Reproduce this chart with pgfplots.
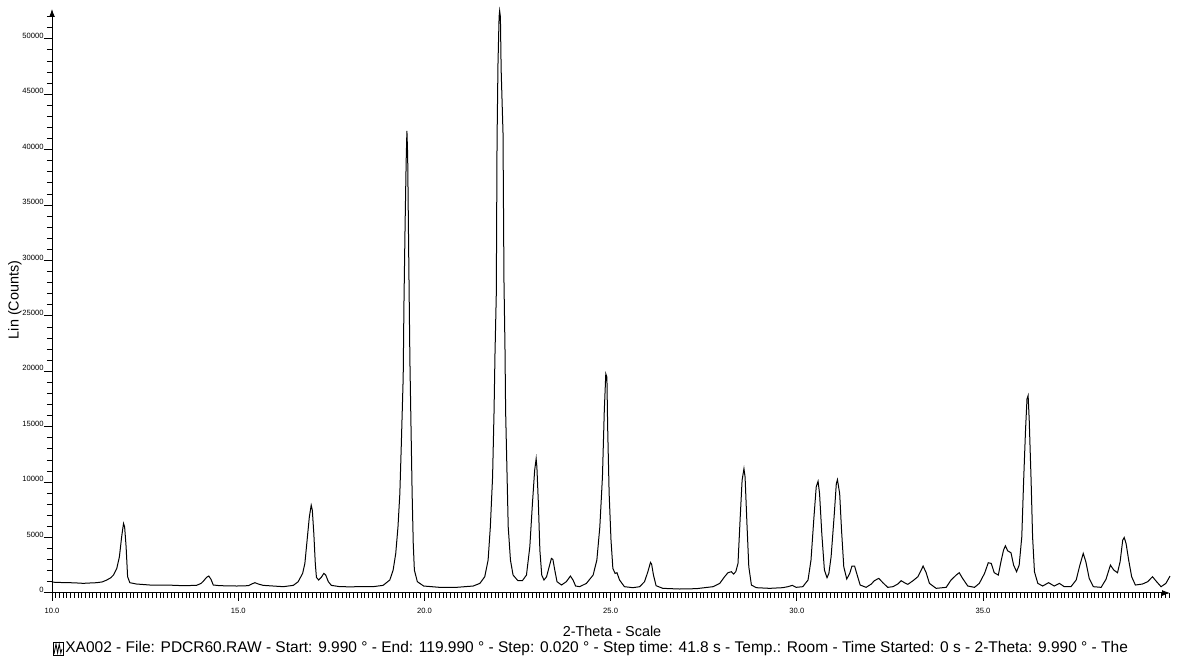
\documentclass[border=0pt]{standalone}
\usepackage{fontspec}
\setmainfont{Liberation Sans}
\usepackage{pgfplots}
\pgfplotsset{compat=1.18}
\usetikzlibrary{arrows.meta}

% XRD scan, 2-theta vs counts
\pgfplotstableread{
deg count
10.00 980
10.20 950
10.48 930
10.70 900
10.84 870
11.00 900
11.20 930
11.35 1000
11.47 1170
11.58 1380
11.65 1620
11.74 2220
11.81 3270
11.87 5070
11.92 6270
11.95 5970
11.99 4170
12.03 1470
12.09 930
12.27 810
12.63 720
13.08 720
13.52 660
13.88 690
14.00 860
14.06 1050
14.15 1410
14.21 1530
14.27 1230
14.33 720
14.51 660
14.96 630
15.27 660
15.36 810
15.45 930
15.54 810
15.67 690
16.21 570
16.48 690
16.61 1020
16.73 1770
16.79 2670
16.85 4770
16.91 6870
16.96 7920
16.99 7470
17.03 5370
17.07 2670
17.10 1410
17.16 1170
17.23 1410
17.30 1770
17.35 1620
17.42 1020
17.50 690
17.73 570
18.00 560
18.30 570
18.62 570
18.89 690
19.07 1170
19.16 2070
19.23 3570
19.29 5970
19.34 8970
19.38 13470
19.43 19470
19.45 26000
19.48 33000
19.51 39000
19.53 41700
19.55 39500
19.58 30000
19.61 21000
19.64 14970
19.67 8970
19.70 4470
19.73 2070
19.81 1020
19.98 630
20.41 510
20.86 510
21.31 630
21.49 870
21.62 1470
21.71 2970
21.77 5970
21.83 10470
21.87 16470
21.895 21600
21.93 27000
21.95 40770
21.975 47700
22.005 52000
22.02 52530
22.04 52000
22.06 47250
22.11 41520
22.136 28170
22.163 22170
22.18 16470
22.22 10470
22.25 5970
22.31 2970
22.38 1620
22.51 1110
22.63 1110
22.74 1620
22.83 4170
22.90 8070
22.96 11070
23.00 12120
23.02 11370
23.06 8070
23.10 3870
23.15 1620
23.21 1170
23.28 1470
23.35 2370
23.41 3120
23.45 3030
23.50 2070
23.56 1020
23.68 720
23.81 1020
23.92 1530
23.99 1170
24.06 630
24.17 570
24.35 870
24.53 1620
24.63 2970
24.71 5970
24.78 10470
24.83 16470
24.87 19770
24.90 19470
24.92 14970
24.96 8970
25.01 4770
25.06 2220
25.12 1770
25.17 1830
25.24 1170
25.37 570
25.60 480
25.78 570
25.91 1020
26.00 1920
26.07 2760
26.10 2610
26.15 1620
26.22 660
26.40 420
26.85 360
27.30 390
27.75 570
27.93 870
28.06 1470
28.15 1830
28.24 1920
28.30 1710
28.36 1920
28.42 2670
28.48 6870
28.53 10170
28.58 11220
28.61 10470
28.66 6270
28.71 2370
28.78 720
28.91 480
29.27 420
29.62 480
29.76 570
29.88 690
29.98 510
30.16 570
30.30 1170
30.38 2970
30.46 6870
30.52 9570
30.57 10080
30.61 8970
30.67 5370
30.74 2070
30.81 1380
30.86 1770
30.92 3270
31.00 6870
31.06 9870
31.09 10230
31.15 8970
31.20 5670
31.26 2370
31.34 1260
31.42 1770
31.48 2430
31.55 2430
31.62 1620
31.70 720
31.86 510
32.00 810
32.08 1110
32.20 1320
32.31 930
32.44 510
32.58 570
32.71 810
32.80 1110
32.89 930
32.98 780
33.12 1110
33.25 1470
33.34 2070
33.39 2430
33.47 1850
33.56 870
33.74 420
34.01 510
34.14 1170
34.28 1620
34.36 1830
34.45 1320
34.59 630
34.77 510
34.90 870
35.04 1770
35.14 2730
35.22 2670
35.30 1830
35.41 1620
35.48 2820
35.55 3870
35.60 4260
35.66 3810
35.75 3630
35.82 2520
35.90 1920
35.97 2520
36.04 5070
36.09 10170
36.14 14670
36.18 17520
36.21 17820
36.24 15570
36.29 10170
36.33 5070
36.38 1920
36.47 870
36.60 630
36.76 930
36.91 630
37.05 870
37.18 570
37.36 570
37.50 1170
37.60 2520
37.69 3570
37.76 2820
37.85 1320
37.96 570
38.17 510
38.30 1230
38.42 2520
38.51 2070
38.61 1830
38.68 2820
38.75 4770
38.79 5010
38.84 4470
38.91 2970
38.99 1470
39.09 720
39.28 810
39.42 1020
39.55 1470
39.66 1020
39.78 570
39.91 870
40.02 1530
}\scan

\begin{document}
\begin{tikzpicture}
\begin{axis}[
    at={(26pt,35pt)}, anchor=south west,
    scale only axis,
    width=559pt, height=292pt,
    xmin=10, xmax=40.02,
    ymin=0, ymax=52700,
    axis lines=left,
    axis line style={line width=0.5pt, -{Latex[length=4pt,width=3pt]}},
    tick align=outside,
    tick style={black, line width=0.5pt},
    major tick length=4pt,
    minor tick length=2.5pt,
    xtick={10,15,...,35},
    minor xtick={10.0,10.1,...,40.0},
    ytick={0,5000,...,50000},
    minor ytick={0,1000,...,52000},
    scaled y ticks=false,
    /pgf/number format/assume math mode=true,
    xticklabel style={font=\fontsize{3.8}{4}\selectfont,
        /pgf/number format/.cd, fixed, fixed zerofill, precision=1},
    yticklabel style={font=\fontsize{3.8}{4}\selectfont, anchor=south east,
        inner sep=0pt, /pgf/number format/set thousands separator={}},
    xlabel={2-Theta - Scale},
    ylabel={Lin (Counts)},
    label style={font=\fontsize{7.2}{8}\selectfont},
    xlabel style={at={(axis description cs:0.5009,-0.065)}, anchor=center},
    ylabel style={at={(axis description cs:-0.0331,0.502)}, anchor=center},
    clip=false,
]
\addplot[black, line width=0.5pt, mark=none] table[x=deg, y=count] {\scan};

\node[font=\fontsize{7.75}{8.5}\selectfont, anchor=west, inner sep=0pt]
    at (axis description cs:0.0116,-0.0942)
    {XA002 - File: PDCR60.RAW - Start: 9.990 ° - End: 119.990 ° - Step: 0.020 ° - Step time: 41.8 s - Temp.: Room - Time Started: 0 s - 2-Theta: 9.990 ° - The};
\end{axis}
% small scan icon in front of the caption
\draw[line width=0.4pt] (26.5pt,3.8pt) rectangle (31.5pt,10.3pt);
\draw[line width=0.4pt] (27pt,4.5pt) -- (28pt,9.5pt) -- (28.8pt,5pt) -- (29.6pt,9.5pt) -- (30.4pt,5pt) -- (31pt,7pt);
\pgfresetboundingbox
\path[use as bounding box] (0,0) rectangle (591pt,331.5pt);
\end{tikzpicture}
\end{document}
